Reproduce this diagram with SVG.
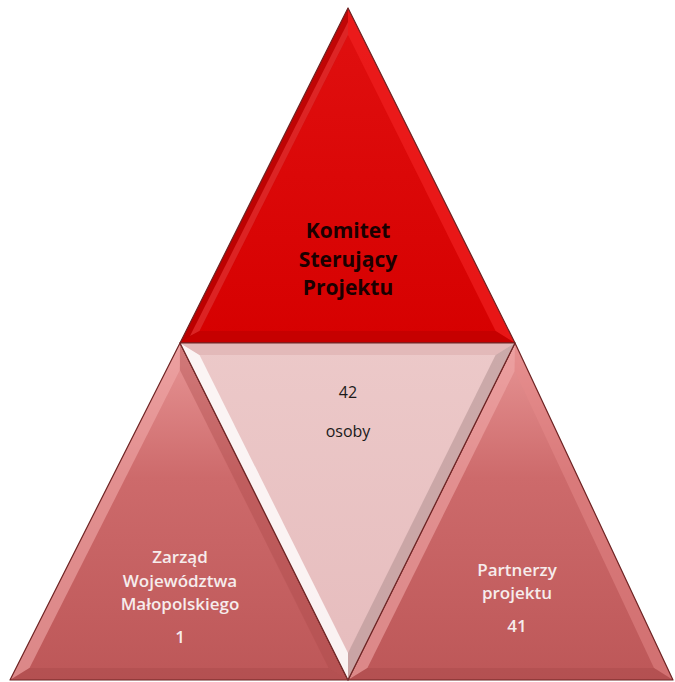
<svg xmlns="http://www.w3.org/2000/svg" width="675" height="682" viewBox="0 0 675 682">
<defs>
<linearGradient id="gTop" x1="0" y1="0" x2="0" y2="1">
<stop offset="0" stop-color="#e01010"/><stop offset="1" stop-color="#d60000"/>
</linearGradient>
<linearGradient id="gBot" x1="0" y1="0" x2="0" y2="1">
<stop offset="0" stop-color="#e89696"/><stop offset="0.4" stop-color="#cd6a6b"/><stop offset="1" stop-color="#bd5758"/>
</linearGradient>
<linearGradient id="gMid" x1="0" y1="0" x2="0" y2="1">
<stop offset="0" stop-color="#ecc9c9"/><stop offset="1" stop-color="#e6bcbd"/>
</linearGradient>
<style>
.edge{fill:none;stroke:#6e2424;stroke-width:1.2;stroke-linejoin:round}
.tk{font-family:"Open Sans","Liberation Sans",sans-serif;font-weight:bold;font-size:21px;fill:#1a0000;text-anchor:middle}
.tm{font-family:"Open Sans","Liberation Sans",sans-serif;font-size:16px;fill:#1a1a1a;text-anchor:middle}
.tw{font-family:"Open Sans","Liberation Sans",sans-serif;font-weight:600;font-size:17px;fill:#f6ecec;text-anchor:middle}
</style>
</defs>
<rect width="675" height="682" fill="#ffffff"/>

<g id="top">
<polygon points="348,8 180,343 515,343" fill="url(#gTop)"/>
<polygon points="348,8 348,35 199.5,331 180,343" fill="#a80000" opacity="0.55"/>
<polygon points="348,22 348,35 199.5,331 190,336" fill="#f03a3a" opacity="0.6"/>
<polygon points="348,8 515,343 495.6,331 348,35" fill="#f02020" opacity="0.7"/>
<polygon points="180,343 515,343 495.6,331 199.5,331" fill="#b50000" opacity="0.5"/>
<polygon class="edge" points="348,8 180,343 515,343"/>
<text class="tk" x="348" y="238">Komitet</text>
<text class="tk" x="348" y="267">Sterujący</text>
<text class="tk" x="348" y="295">Projektu</text>
</g>

<g id="left">
<polygon points="180,343 10,680 348,680" fill="url(#gBot)"/>
<polygon points="180,343 179.9,370 29.5,668 10,680" fill="#f0a8a8" opacity="0.6"/>
<polygon points="180,343 348,680 328.6,668 179.9,370" fill="#a84848" opacity="0.35"/>
<polygon points="10,680 348,680 328.6,668 29.5,668" fill="#a84a4a" opacity="0.45"/>
<polygon class="edge" points="180,343 10,680 348,680"/>
<text class="tw" x="180" y="563">Zarząd</text>
<text class="tw" x="180" y="587">Województwa</text>
<text class="tw" x="180" y="610">Małopolskiego</text>
<text class="tw" x="180" y="643">1</text>
</g>

<g id="right">
<polygon points="515,343 348,680 673,680" fill="url(#gBot)"/>
<polygon points="515,343 514.7,371 367.4,668 348,680" fill="#f0a8a8" opacity="0.6"/>
<polygon points="515,343 673,680 654,668 514.7,371" fill="#e58a8a" opacity="0.5"/>
<polygon points="348,680 673,680 654,668 367.4,668" fill="#a84a4a" opacity="0.45"/>
<polygon class="edge" points="515,343 348,680 673,680"/>
<text class="tw" x="517" y="576">Partnerzy</text>
<text class="tw" x="517" y="599">projektu</text>
<text class="tw" x="517" y="632">41</text>
</g>

<g id="center">
<polygon points="180,343 515,343 348,680" fill="url(#gMid)"/>
<polygon points="180,343 199.5,355 348,653 348,680" fill="#ffffff" opacity="0.8"/>
<polygon points="515,343 348,680 348,653 495.6,355" fill="#b09090" opacity="0.55"/>
<polygon points="180,343 515,343 495.6,355 199.5,355" fill="#d9a9a9" opacity="0.5"/>
<polygon class="edge" points="180,343 515,343 348,680"/>
<text class="tm" x="348" y="398">42</text>
<text class="tm" x="348" y="437">osoby</text>
</g>
</svg>
